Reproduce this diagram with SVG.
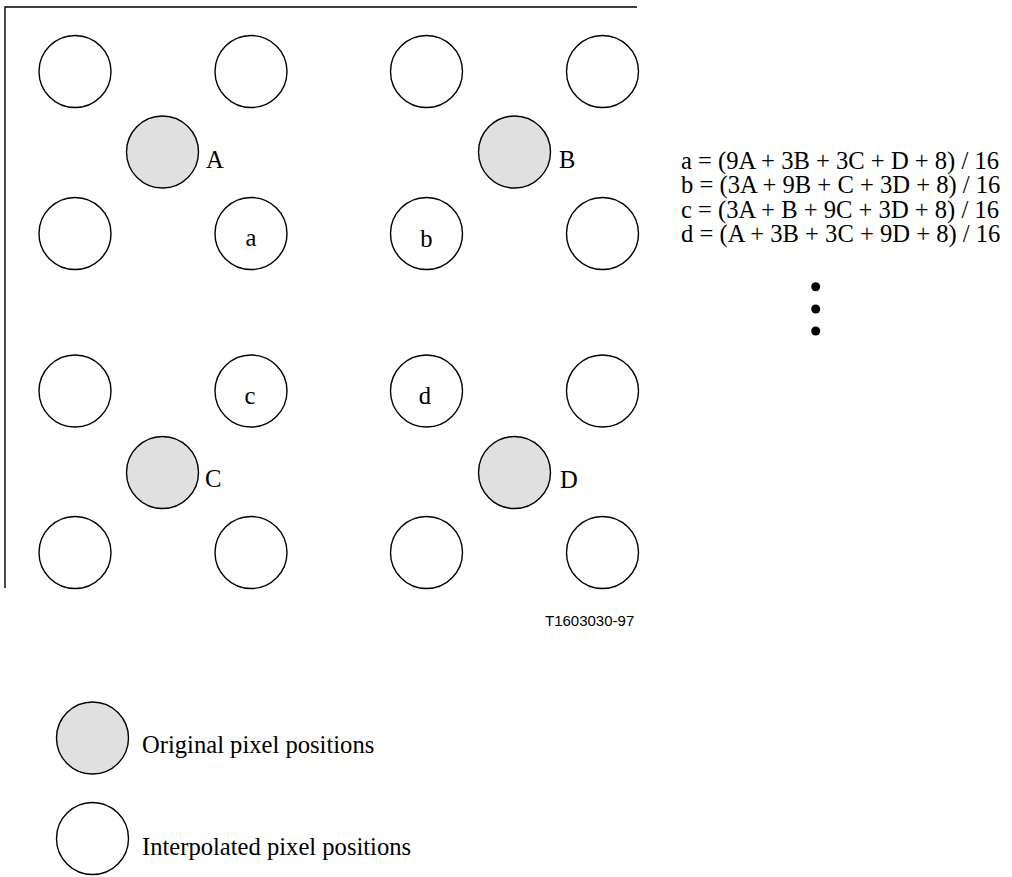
<svg xmlns="http://www.w3.org/2000/svg" width="1012" height="877" viewBox="0 0 1012 877">
<style>
.px{fill:#ffffff;stroke:#000;stroke-width:1.4}
.orig{fill:#e0e0e0;stroke:#000;stroke-width:1.4}
.t{font-family:"Liberation Serif","Times New Roman",serif;font-size:24.6px;fill:#000}
.mid{text-anchor:middle}
.s{font-family:"Liberation Sans",Arial,sans-serif;font-size:15px;fill:#000}
.frame{fill:none;stroke:#000;stroke-width:1.4}
</style>
<rect width="1012" height="877" fill="#fff"/>
<g id="frame">
<polyline class="frame" points="5,588 5,7 637,7"/>
</g>
<g id="connectors"></g>
<g id="interp-row1">
<circle class="px" cx="75" cy="71.5" r="36"/>
<circle class="px" cx="251" cy="71.5" r="36"/>
<circle class="px" cx="426.5" cy="71.5" r="36"/>
<circle class="px" cx="602.5" cy="71.5" r="36"/>
</g>
<g id="node-A"><circle class="orig" cx="162.5" cy="152" r="36"/><text class="t" x="206" y="167.5">A</text></g>
<g id="node-B"><circle class="orig" cx="514.5" cy="152" r="36"/><text class="t" x="559" y="167.5">B</text></g>
<g id="interp-row2">
<circle class="px" cx="75" cy="233.5" r="36"/>
<g id="node-a"><circle class="px" cx="251" cy="233.5" r="36"/><text class="t mid" x="251" y="245.5">a</text></g>
<g id="node-b"><circle class="px" cx="426.5" cy="233.5" r="36"/><text class="t mid" x="426.5" y="246.5">b</text></g>
<circle class="px" cx="602.5" cy="233.5" r="36"/>
</g>
<g id="interp-row3">
<circle class="px" cx="75" cy="391" r="36"/>
<g id="node-c"><circle class="px" cx="251" cy="391" r="36"/><text class="t mid" x="250" y="403.5">c</text></g>
<g id="node-d"><circle class="px" cx="426.5" cy="391" r="36"/><text class="t mid" x="425" y="403.5">d</text></g>
<circle class="px" cx="602.5" cy="391" r="36"/>
</g>
<g id="node-C"><circle class="orig" cx="162.5" cy="472.5" r="36"/><text class="t" x="205" y="487">C</text></g>
<g id="node-D"><circle class="orig" cx="514.5" cy="472.5" r="36"/><text class="t" x="560" y="488">D</text></g>
<g id="interp-row4">
<circle class="px" cx="75" cy="552.5" r="36"/>
<circle class="px" cx="251" cy="552.5" r="36"/>
<circle class="px" cx="426.5" cy="552.5" r="36"/>
<circle class="px" cx="602.5" cy="552.5" r="36"/>
</g>
<g id="formulas">
<text class="t" x="681" y="168.5">a = (9A + 3B + 3C + D + 8) / 16</text>
<text class="t" x="681" y="193">b = (3A + 9B + C + 3D + 8) / 16</text>
<text class="t" x="681" y="217.5">c = (3A + B + 9C + 3D + 8) / 16</text>
<text class="t" x="681" y="242">d = (A + 3B + 3C + 9D + 8) / 16</text>
<circle cx="815.7" cy="286.7" r="4.5" fill="#000"/>
<circle cx="815.7" cy="309" r="4.5" fill="#000"/>
<circle cx="815.7" cy="331" r="4.5" fill="#000"/>
</g>
<g id="figure-id"><text class="s" x="545" y="626">T1603030-97</text></g>
<g id="legend-original"><circle class="orig" cx="92.5" cy="738" r="36"/><text class="t" x="142" y="753">Original pixel positions</text></g>
<g id="legend-interpolated"><circle class="px" cx="92.5" cy="838.5" r="36"/><text class="t" x="142" y="855">Interpolated pixel positions</text></g>
</svg>
